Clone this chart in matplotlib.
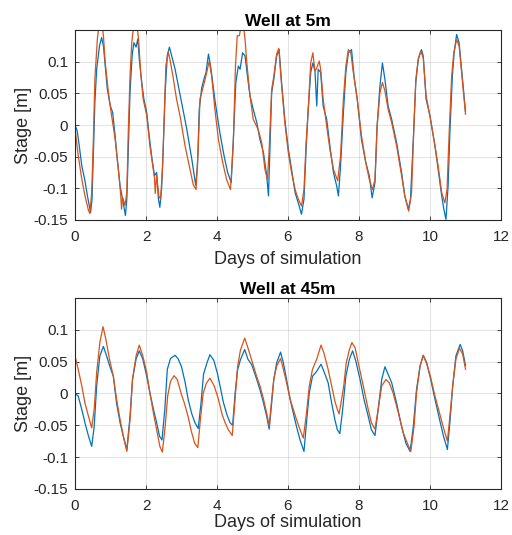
import matplotlib
matplotlib.use('Agg')
import matplotlib.pyplot as plt
import numpy as np

plt.rcParams['font.family'] = ['Liberation Sans', 'DejaVu Sans']

BLUE = '#0072BD'
ORANGE = '#D95319'
AXC = '#262626'

# ---- Well at 5m ----
t_5m_blue = [0, 0.06, 0.12, 0.19, 0.28, 0.35, 0.40, 0.44, 0.48, 0.52, 0.56, 0.61, 0.69, 0.75, 0.80, 0.85, 0.91, 0.99,
             1.06, 1.13, 1.19, 1.27, 1.34, 1.42, 1.46, 1.50, 1.55, 1.61, 1.66, 1.72, 1.77, 1.81, 1.88, 1.94,
             2.02, 2.09, 2.17, 2.24, 2.30, 2.35, 2.39, 2.44, 2.49, 2.54, 2.60, 2.66, 2.72, 2.82, 2.96,
             3.15, 3.29, 3.40, 3.45, 3.50, 3.57, 3.63, 3.69, 3.76, 3.82, 3.94,
             4.08, 4.20, 4.30, 4.40, 4.46, 4.53, 4.60, 4.65, 4.72, 4.79, 4.88, 4.93,
             5.02, 5.12, 5.21, 5.31, 5.40, 5.45, 5.49, 5.54, 5.60, 5.68, 5.75, 5.82, 5.91,
             6.01, 6.10, 6.20, 6.29, 6.38, 6.45, 6.51, 6.57, 6.64, 6.70, 6.76, 6.81, 6.85, 6.92, 6.99,
             7.09, 7.18, 7.28, 7.37, 7.42, 7.48, 7.56, 7.63, 7.70, 7.79, 7.86, 7.95,
             8.07, 8.19, 8.29, 8.37, 8.45, 8.51, 8.59, 8.66, 8.73, 8.82, 8.92,
             9.06, 9.20, 9.29, 9.39, 9.45, 9.53, 9.60, 9.67, 9.76, 9.81, 9.89,
             10.00, 10.14, 10.23, 10.33, 10.39, 10.45, 10.51, 10.56, 10.63, 10.68, 10.75, 10.82, 10.89, 10.96, 11.00]
y_5m_blue = [0, -0.009, -0.033, -0.064, -0.088, -0.112, -0.127, -0.138, -0.117, -0.043, 0.036, 0.088, 0.125, 0.138, 0.125, 0.094, 0.057, 0.031,
             0.020, -0.017, -0.054, -0.096, -0.117, -0.143, -0.117, -0.043, 0.052, 0.110, 0.130, 0.123, 0.136, 0.104, 0.067, 0.041,
             0.020, -0.017, -0.054, -0.080, -0.075, -0.117, -0.130, -0.101, -0.027, 0.052, 0.110, 0.123, 0.110, 0.088, 0.048,
             -0.007, -0.054, -0.095, -0.065, 0.025, 0.059, 0.072, 0.083, 0.112, 0.093, 0.040,
             -0.012, -0.049, -0.075, -0.091, -0.023, 0.067, 0.093, 0.088, 0.114, 0.109, 0.067, 0.046,
             0.025, 0.004, -0.023, -0.044, -0.080, -0.112, -0.038, 0.051, 0.072, 0.109, 0.119, 0.067, 0.009,
             -0.038, -0.070, -0.107, -0.123, -0.141, -0.117, -0.038, 0.025, 0.083, 0.098, 0.085, 0.030, 0.088, 0.083, 0.030,
             0.009, -0.033, -0.075, -0.096, -0.112, -0.065, 0.019, 0.083, 0.114, 0.119, 0.077, 0.041,
             -0.023, -0.059, -0.080, -0.115, -0.091, -0.002, 0.062, 0.098, 0.072, 0.030, 0.009,
             -0.028, -0.075, -0.112, -0.133, -0.117, -0.023, 0.067, 0.104, 0.119, 0.109, 0.041,
             0.014, -0.033, -0.070, -0.112, -0.133, -0.149, -0.096, -0.012, 0.077, 0.114, 0.143, 0.130, 0.088, 0.046, 0.022]

t_5m_orange = [0, 0.09, 0.19, 0.28, 0.38, 0.42, 0.47, 0.52, 0.56, 0.63, 0.68, 0.75, 0.80, 0.85, 0.94,
               1.03, 1.13, 1.22, 1.29, 1.31, 1.34, 1.41, 1.46, 1.50, 1.55, 1.60, 1.66, 1.74, 1.79, 1.85, 1.92,
               2.02, 2.11, 2.19, 2.24, 2.26, 2.30, 2.36, 2.41, 2.47, 2.52, 2.56, 2.63, 2.69, 2.77, 2.86, 2.96,
               3.10, 3.24, 3.33, 3.41, 3.47, 3.52, 3.62, 3.71, 3.78, 3.85, 3.94,
               4.04, 4.16, 4.27, 4.38, 4.46, 4.52, 4.57, 4.63, 4.69, 4.74, 4.79, 4.84, 4.93,
               5.02, 5.16, 5.26, 5.35, 5.42, 5.47, 5.54, 5.60, 5.68, 5.74, 5.82, 5.91,
               6.01, 6.10, 6.20, 6.29, 6.38, 6.45, 6.51, 6.57, 6.64, 6.70, 6.76, 6.81, 6.88, 6.92, 6.99,
               7.09, 7.18, 7.28, 7.40, 7.48, 7.56, 7.63, 7.70, 7.77, 7.84, 7.95,
               8.07, 8.19, 8.29, 8.38, 8.45, 8.51, 8.59, 8.66, 8.73, 8.82, 8.92,
               9.06, 9.20, 9.29, 9.40, 9.48, 9.54, 9.60, 9.67, 9.74, 9.81, 9.89,
               10.00, 10.14, 10.23, 10.33, 10.42, 10.48, 10.54, 10.61, 10.67, 10.75, 10.82, 10.89, 10.96, 11.00]
y_5m_orange = [-0.006, -0.048, -0.085, -0.112, -0.135, -0.140, -0.106, -0.017, 0.073, 0.136, 0.160, 0.165, 0.141, 0.099, 0.052,
               0.015, -0.022, -0.069, -0.112, -0.133, -0.114, -0.127, -0.106, -0.012, 0.078, 0.131, 0.160, 0.160, 0.136, 0.083, 0.041,
               0.015, -0.033, -0.064, -0.085, -0.108, -0.080, -0.112, -0.117, -0.064, 0.025, 0.094, 0.115, 0.099, 0.073, 0.041, 0.014,
               -0.033, -0.070, -0.094, -0.102, -0.038, 0.041, 0.062, 0.083, 0.101, 0.077, 0.025,
               -0.023, -0.059, -0.086, -0.102, -0.028, 0.093, 0.141, 0.141, 0.160, 0.160, 0.135, 0.098, 0.046,
               0.009, -0.007, -0.028, -0.070, -0.086, -0.038, 0.056, 0.077, 0.112, 0.121, 0.062, 0.004,
               -0.044, -0.075, -0.102, -0.117, -0.128, -0.102, -0.028, 0.025, 0.098, 0.114, 0.085, 0.090, 0.101, 0.088, 0.041,
               -0.002, -0.038, -0.070, -0.088, -0.049, 0.041, 0.093, 0.119, 0.114, 0.083, 0.041,
               -0.017, -0.059, -0.086, -0.102, -0.086, -0.002, 0.051, 0.067, 0.054, 0.025, 0.004,
               -0.033, -0.080, -0.112, -0.136, -0.107, -0.012, 0.072, 0.104, 0.117, 0.106, 0.046,
               0.014, -0.033, -0.065, -0.107, -0.123, -0.102, -0.012, 0.077, 0.114, 0.135, 0.125, 0.083, 0.041, 0.017]

# ---- Well at 45m ----
t_45m_blue = [0, 0.09, 0.19, 0.28, 0.38, 0.47, 0.54, 0.61, 0.70, 0.80, 0.89, 0.99,
              1.08, 1.17, 1.27, 1.36, 1.46, 1.55, 1.62, 1.72, 1.81, 1.91,
              2.02, 2.11, 2.21, 2.30, 2.38, 2.45, 2.53, 2.60, 2.69, 2.82, 2.91,
              3.00, 3.10, 3.19, 3.29, 3.38, 3.47, 3.55, 3.62, 3.71, 3.80, 3.91,
              4.01, 4.10, 4.18, 4.29, 4.37, 4.44, 4.51, 4.58, 4.66, 4.78, 4.87, 4.98,
              5.12, 5.21, 5.31, 5.40, 5.47, 5.54, 5.60, 5.68, 5.79, 5.87, 5.96,
              6.06, 6.15, 6.24, 6.34, 6.45, 6.52, 6.60, 6.69, 6.81, 6.93,
              7.01, 7.13, 7.23, 7.32, 7.39, 7.46, 7.54, 7.63, 7.73, 7.82, 7.91,
              8.03, 8.14, 8.26, 8.35, 8.45, 8.54, 8.64, 8.73, 8.82, 8.92,
              9.06, 9.20, 9.32, 9.44, 9.53, 9.62, 9.72, 9.81, 9.91,
              10.02, 10.14, 10.27, 10.38, 10.49, 10.56, 10.64, 10.73, 10.85, 10.92, 11.00]
y_45m_blue = [0, -0.004, -0.025, -0.046, -0.067, -0.083, -0.052, 0.012, 0.059, 0.074, 0.059, 0.041,
              0.027, -0.015, -0.046, -0.067, -0.088, -0.036, 0.022, 0.054, 0.067, 0.054,
              0.027, 0.001, -0.025, -0.046, -0.067, -0.073, -0.025, 0.038, 0.055, 0.060, 0.054,
              0.042, 0.018, -0.010, -0.032, -0.046, -0.055, -0.015, 0.030, 0.047, 0.061, 0.052,
              0.032, 0.008, -0.014, -0.035, -0.046, -0.050, 0.000, 0.037, 0.053, 0.069, 0.054, 0.045,
              0.022, 0.006, -0.015, -0.036, -0.056, -0.015, 0.022, 0.048, 0.065, 0.048, 0.022,
              -0.009, -0.031, -0.052, -0.073, -0.091, -0.046, 0.001, 0.027, 0.035, 0.046,
              0.035, 0.017, -0.015, -0.041, -0.057, -0.063, -0.025, 0.027, 0.054, 0.067, 0.051,
              0.022, -0.009, -0.036, -0.057, -0.066, -0.025, 0.022, 0.042, 0.030, 0.017,
              -0.015, -0.052, -0.078, -0.091, -0.052, 0.006, 0.043, 0.060, 0.048,
              0.022, -0.009, -0.041, -0.067, -0.088, -0.046, 0.012, 0.059, 0.077, 0.067, 0.044]

t_45m_orange = [0, 0.09, 0.19, 0.28, 0.38, 0.47, 0.54, 0.61, 0.70, 0.79, 0.87, 0.97,
                1.08, 1.17, 1.27, 1.36, 1.46, 1.55, 1.62, 1.72, 1.81, 1.91,
                2.02, 2.11, 2.21, 2.30, 2.39, 2.46, 2.54, 2.61, 2.69, 2.79, 2.88, 2.99,
                3.08, 3.18, 3.28, 3.37, 3.46, 3.53, 3.61, 3.70, 3.80, 3.92,
                4.03, 4.15, 4.23, 4.32, 4.43, 4.51, 4.58, 4.66, 4.78, 4.87, 4.98,
                5.12, 5.21, 5.31, 5.40, 5.47, 5.54, 5.60, 5.68, 5.79, 5.87, 5.96,
                6.06, 6.15, 6.24, 6.34, 6.43, 6.51, 6.60, 6.69, 6.81, 6.93,
                7.01, 7.13, 7.23, 7.32, 7.39, 7.44, 7.51, 7.57, 7.64, 7.73, 7.80, 7.89, 7.98,
                8.12, 8.26, 8.35, 8.45, 8.54, 8.64, 8.76, 8.85, 8.96,
                9.11, 9.25, 9.36, 9.46, 9.55, 9.62, 9.72, 9.81, 9.91,
                10.02, 10.14, 10.27, 10.38, 10.49, 10.56, 10.64, 10.73, 10.83, 10.92, 11.00]
y_45m_orange = [0.059, 0.038, 0.012, -0.015, -0.036, -0.054, -0.025, 0.033, 0.080, 0.105, 0.085, 0.054,
                0.027, -0.009, -0.041, -0.067, -0.091, -0.041, 0.022, 0.059, 0.076, 0.059,
                0.033, 0.001, -0.031, -0.057, -0.083, -0.092, -0.052, -0.004, 0.019, 0.028, 0.022, 0.000,
                -0.015, -0.035, -0.060, -0.078, -0.085, -0.042, 0.000, 0.016, 0.024, 0.012,
                -0.007, -0.034, -0.046, -0.057, -0.066, -0.008, 0.042, 0.068, 0.087, 0.072, 0.052,
                0.026, 0.012, -0.009, -0.031, -0.051, -0.009, 0.022, 0.043, 0.055, 0.038, 0.017,
                -0.009, -0.025, -0.041, -0.057, -0.070, -0.036, 0.012, 0.038, 0.054, 0.076,
                0.064, 0.038, 0.012, -0.012, -0.025, -0.032, -0.009, 0.012, 0.048, 0.069, 0.080, 0.072, 0.048,
                0.012, -0.025, -0.046, -0.056, -0.025, 0.012, 0.022, 0.017, 0.001,
                -0.031, -0.062, -0.078, -0.091, -0.052, 0.001, 0.043, 0.060, 0.046,
                0.025, -0.004, -0.031, -0.054, -0.075, -0.036, 0.012, 0.054, 0.071, 0.062, 0.038]

x_ticks = [0, 2, 4, 6, 8, 10, 12]
y_ticks = [-0.15, -0.1, -0.05, 0, 0.05, 0.1]
y_tick_labels = ['-0.15', '-0.1', '-0.05', '0', '0.05', '0.1']

# title, series, axes rect, xlabel pad (bottom one nudged up so it stays in frame)
panels = [
    ('Well at 5m', t_5m_blue, y_5m_blue, t_5m_orange, y_5m_orange, [0.1465, 0.5888, 0.832, 0.3551], 5),
    ('Well at 45m', t_45m_blue, y_45m_blue, t_45m_orange, y_45m_orange, [0.1465, 0.0860, 0.832, 0.3570], 1),
]

fig = plt.figure(figsize=(5.12, 5.35), dpi=100)

for title, tb, yb, to, yo, pos, xpad in panels:
    ax = fig.add_axes(pos)
    ax.plot(tb, yb, color=BLUE, lw=0.9)
    ax.plot(to, yo, color=ORANGE, lw=0.9)
    ax.set_xlim(0, 12)
    ax.set_ylim(-0.15, 0.15)
    ax.set_xticks(x_ticks)
    ax.set_yticks(y_ticks)
    ax.set_yticklabels(y_tick_labels)
    ax.grid(True, color=AXC, alpha=0.15, lw=0.6)
    ax.set_axisbelow(True)
    ax.tick_params(direction='in', top=True, right=True, length=3, width=0.6,
                   colors=AXC, labelsize=11)
    ax.tick_params(axis='x', pad=7)
    ax.tick_params(axis='y', pad=5)
    for s in ax.spines.values():
        s.set_color(AXC)
        s.set_linewidth(0.8)
    ax.set_title(title, fontsize=12.5, fontweight='bold', pad=3)
    ax.set_xlabel('Days of simulation', fontsize=13, color=AXC, labelpad=xpad)
    ax.set_ylabel('Stage [m]', fontsize=13, color=AXC, labelpad=1)

fig.savefig('out.png', dpi=100)
